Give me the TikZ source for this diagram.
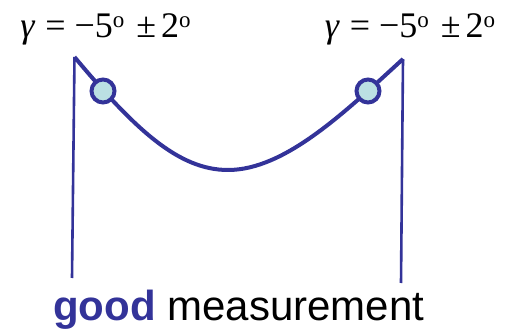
\documentclass[tikz,border=0pt]{standalone}
\usepackage{fontspec}
\setmainfont{Liberation Sans}
\newfontfamily\tnr{Liberation Serif}
\definecolor{navy}{HTML}{333399}
\definecolor{pale}{HTML}{BBE0E3}
\newcommand{\degsup}{\raisebox{10pt}{\fontsize{23}{23}\selectfont o}}
\newcommand{\gammalabel}{\textit{γ}\hspace{10pt}=\hspace{9pt}−5\degsup\hspace{12pt}±\hspace{5pt}2\degsup}
\begin{document}
\begin{tikzpicture}[x=1pt,y=1pt,
  curve/.style={draw=navy,line width=4pt},
  stem/.style={draw=navy,line width=2.6pt},
  dot/.style={circle,draw=navy,fill=pale,line width=4pt,minimum size=23pt,inner sep=0pt},
  lab/.style={font=\tnr\fontsize{36}{40}\selectfont,inner sep=0pt,anchor=base}]
\useasboundingbox (0,0) rectangle (510,332);
\node[lab] (gl) at (105.5,294.5) {\gammalabel};
\node[lab] (gr) at (410,294) {\gammalabel};
\coordinate (ltop) at (74.5,275);
\coordinate (rtop) at (403,273);
\coordinate (lbot) at (72,54);
\coordinate (rbot) at (401,49);
\coordinate (mid) at (228,162);
\draw[stem] (ltop) -- (lbot);
\draw[stem] (rtop) -- (rbot);
\draw[curve,line join=round] (ltop) .. controls (134.5,203.4) and (178,162) .. (mid) .. controls (285,162) and (345,220) .. (rtop);
\node[dot] (cl) at (103,241) {};
\node[dot] (cr) at (368,241) {};
\node[font=\fontsize{42}{44}\selectfont,anchor=base west,inner sep=0pt] (cap) at (53,12) {\textcolor{navy}{\bfseries good} measurement};
\end{tikzpicture}
\end{document}
